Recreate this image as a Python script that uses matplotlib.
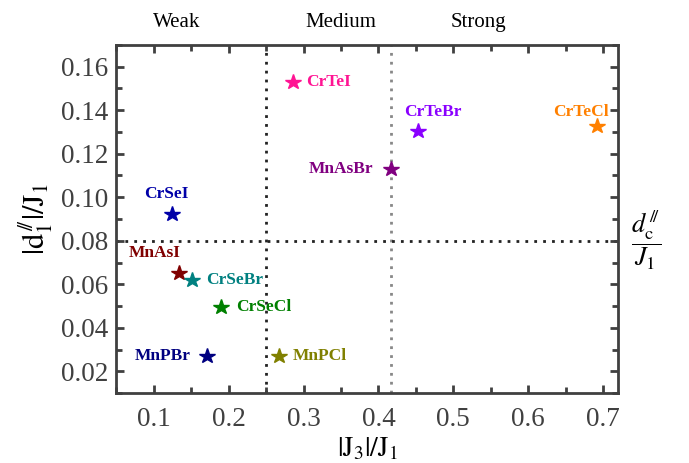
import matplotlib
matplotlib.use("Agg")
import matplotlib.pyplot as plt
from matplotlib.ticker import MultipleLocator, FormatStrFormatter
import matplotlib.transforms as mtransforms

plt.rcParams['font.family'] = ['Liberation Serif', 'DejaVu Serif']
plt.rcParams['mathtext.fontset'] = 'stix'

# Data
materials = ['CrTeI', 'CrTeBr', 'CrTeCl', 'MnAsBr', 'CrSeI', 'MnAsI',
             'CrSeBr', 'CrSeCl', 'MnPBr', 'MnPCl']
j3_over_j1 = [0.286, 0.453, 0.692, 0.417, 0.124, 0.133, 0.151, 0.190, 0.171, 0.267]
d1_over_j1 = [0.153, 0.1305, 0.1327, 0.1128, 0.0922, 0.0652, 0.0618, 0.0495, 0.0272, 0.0272]
colors = ['#FF1493', '#8A00FF', '#FF8000', '#800080', '#0000A8', '#800000',
          '#008080', '#008000', '#000080', '#808000']
# label offsets (points) and horizontal alignment
offsets = [(9.4, 0, 'left'), (10.8, 13.7, 'center'),
           (8.6, 10, 'right'), (-13, 0, 'right'),
           (-4.3, 14.4, 'center'), (-17, 14.4, 'center'),
           (10, 0, 'left'), (11, 0, 'left'),
           (-11.5, 0, 'right'), (10, 0, 'left')]

weak_medium_boundary = 0.25
medium_strong_boundary = 0.417
dc_threshold = 0.08
regions = ['Weak', 'Medium', 'Strong']
region_x = [0.131, 0.350, 0.534]

fig = plt.figure(figsize=(6.89, 4.63), dpi=100)
ax = fig.add_axes([0.169, 0.151, 0.728, 0.752])

ax.set_xlim(0.05, 0.72)
ax.set_ylim(0.01, 0.17)

ls = (0, (1, 2.2))
ax.axvline(weak_medium_boundary, color='#222222', lw=2, ls=ls, zorder=1)
ax.axvline(medium_strong_boundary, color='#888888', lw=2, ls=ls, zorder=1)
ax.axhline(dc_threshold, color='#222222', lw=2, ls=ls, zorder=1)

for name, x, y, c, (dx, dy, ha) in zip(materials, j3_over_j1, d1_over_j1, colors, offsets):
    ax.plot(x, y, marker='*', ms=11.5, color=c, ls='none', zorder=3)
    ax.annotate(name, (x, y), xytext=(dx, dy), textcoords='offset points',
                ha=ha, va='center', color=c, fontsize=12.5, fontweight='bold')

ax.xaxis.set_major_locator(MultipleLocator(0.1))
ax.xaxis.set_minor_locator(MultipleLocator(0.05))
ax.yaxis.set_major_locator(MultipleLocator(0.02))
ax.yaxis.set_minor_locator(MultipleLocator(0.01))
ax.xaxis.set_major_formatter(FormatStrFormatter('%.1f'))
ax.yaxis.set_major_formatter(FormatStrFormatter('%.2f'))

for s in ax.spines.values():
    s.set_color('#404040')
    s.set_linewidth(2)
ax.tick_params(which='both', direction='in', top=True, right=True,
               color='#404040', width=2, labelsize=19.5, labelcolor='#404040')
ax.tick_params(which='major', length=6)
ax.tick_params(which='minor', length=4)
ax.tick_params(axis='x', pad=10)
ax.tick_params(axis='y', pad=6)

ax.set_xlabel(r'$|\mathrm{J}_3|/\mathrm{J}_1$', fontsize=20, labelpad=3)
ax.set_ylabel(r'$|\mathrm{d}_1^{\,/\!/}|/\mathrm{J}_1$', fontsize=22, labelpad=4)

trans = mtransforms.blended_transform_factory(ax.transData, ax.transAxes)
for r, rx in zip(regions, region_x):
    ax.text(rx, 1.063, r, transform=trans, ha='center', va='center', fontsize=15)

trans2 = mtransforms.blended_transform_factory(ax.transAxes, ax.transData)
ax.text(1.056, dc_threshold, r'$\dfrac{d_{\mathrm{c}}^{\,/\!/}}{J_1}$', transform=trans2,
        ha='center', va='center', fontsize=19)

fig.savefig('out.png', dpi=100)
